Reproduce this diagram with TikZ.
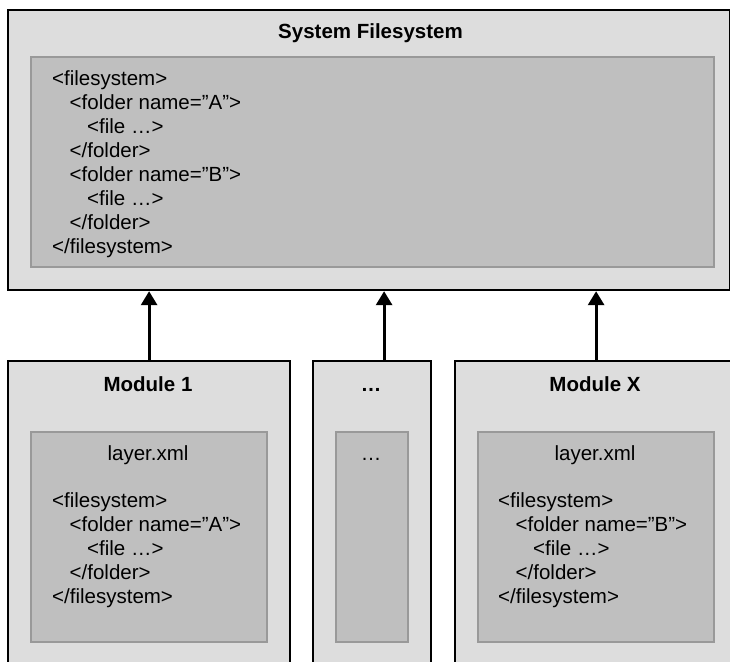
\documentclass[tikz,border=0pt]{standalone}
\usepackage{fontspec}
\setmainfont{Liberation Sans}
\usetikzlibrary{arrows.meta}

\definecolor{boxfill}{HTML}{DDDDDD}
\definecolor{panelfill}{HTML}{BFBFBF}
\definecolor{paneldraw}{HTML}{999999}

% stacked code lines, first baseline is the box baseline
\newcommand\codelines[1]{\vtop{\baselineskip=24pt\lineskiplimit=-50pt\lineskip=0pt #1}}
\newcommand\indone{\hspace*{17.5pt}}
\newcommand\indtwo{\hspace*{35pt}}

\tikzset{
  outerbox/.style={draw=black, line width=2.2pt, fill=boxfill, rectangle,
    anchor=north west, inner sep=0pt},
  panel/.style={draw=paneldraw, line width=2pt, fill=panelfill, rectangle,
    anchor=north west, inner sep=0pt},
  title/.style={font=\fontsize{20.5}{24}\selectfont\bfseries, anchor=base, inner sep=0pt},
  label/.style={font=\fontsize{20.5}{24}\selectfont, anchor=base, inner sep=0pt},
  code/.style={font=\fontsize{20.5}{24}\selectfont, anchor=base west, inner sep=0pt},
  conn/.style={line width=3pt, -{Triangle[length=14pt,width=16pt]}},
}

\begin{document}
\begin{tikzpicture}[x=1pt,y=-1pt]
  \clip (0,0) rectangle (730,661);
  \fill[white] (0,0) rectangle (730,661);

  % system filesystem
  \node[outerbox, minimum width=722pt, minimum height=280pt] (sysfs) at (7,9) {};
  \node[panel, minimum width=683pt, minimum height=210pt] (syspanel) at (30,56) {};
  \node[title] (systitle) at (370.5,38.5) {System Filesystem};
  \node[code] (syscode) at (52,85) {\codelines{%
    \hbox{<filesystem>}
    \hbox{\indone<folder name=”A”>}
    \hbox{\indtwo<file …>}
    \hbox{\indone</folder>}
    \hbox{\indone<folder name=”B”>}
    \hbox{\indtwo<file …>}
    \hbox{\indone</folder>}
    \hbox{</filesystem>}}};

  % module 1
  \node[outerbox, minimum width=282pt, minimum height=340pt] (mod1) at (7,360) {};
  \node[panel, minimum width=236pt, minimum height=210pt] (mod1panel) at (30,431) {};
  \node[title] (mod1title) at (148,391.5) {Module 1};
  \node[label] (mod1file) at (148,460) {layer.xml};
  \node[code] (mod1code) at (52,507) {\codelines{%
    \hbox{<filesystem>}
    \hbox{\indone<folder name=”A”>}
    \hbox{\indtwo<file …>}
    \hbox{\indone</folder>}
    \hbox{</filesystem>}}};

  % further modules
  \node[outerbox, minimum width=118pt, minimum height=340pt] (modn) at (312,360) {};
  \node[panel, minimum width=72pt, minimum height=210pt] (modnpanel) at (335,431) {};
  \node[title] (modntitle) at (371,391.5) {…};
  \node[label] (modnfile) at (371,460) {…};

  % module X
  \node[outerbox, minimum width=282pt, minimum height=340pt] (modx) at (454,360) {};
  \node[panel, minimum width=236pt, minimum height=210pt] (modxpanel) at (477,431) {};
  \node[title] (modxtitle) at (595,391) {Module X};
  \node[label] (modxfile) at (595,460) {layer.xml};
  \node[code] (modxcode) at (498,507) {\codelines{%
    \hbox{<filesystem>}
    \hbox{\indone<folder name=”B”>}
    \hbox{\indtwo<file …>}
    \hbox{\indone</folder>}
    \hbox{</filesystem>}}};

  % contributions into the system filesystem
  \draw[conn] (mod1.north) -- (mod1.north |- sysfs.south);
  \draw[conn] ([xshift=12pt]modn.north) -- ([xshift=12pt]modn.north |- sysfs.south);
  \draw[conn] (modx.north) -- (modx.north |- sysfs.south);
\end{tikzpicture}
\end{document}
